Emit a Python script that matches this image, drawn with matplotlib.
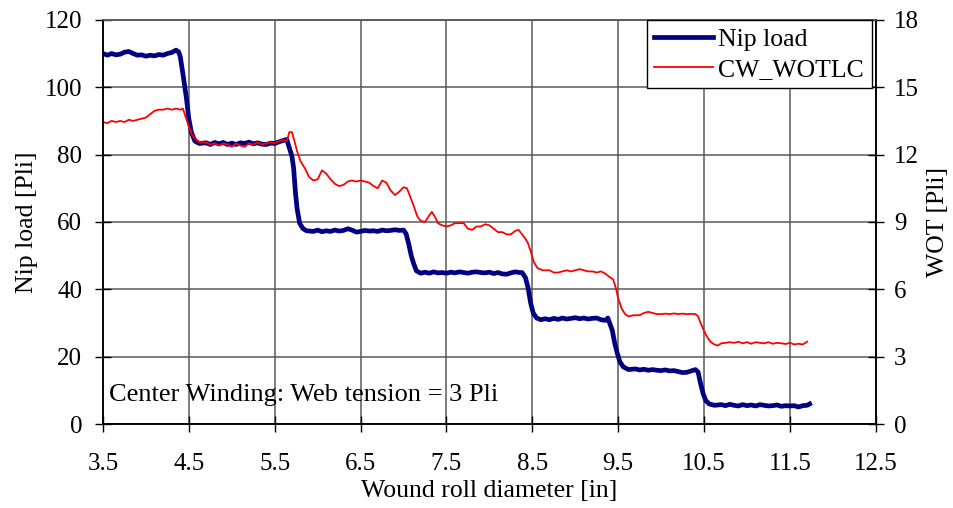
import matplotlib
matplotlib.use("Agg")
import matplotlib.pyplot as plt

# Nip load measured against wound roll diameter
diameter_nip = [3.50, 3.55, 3.60, 3.65, 3.70, 3.75, 3.80, 3.85, 3.90, 3.95, 4.00, 4.05, 4.10, 4.15,
                4.20, 4.25, 4.30, 4.35, 4.38, 4.40, 4.43, 4.47, 4.50, 4.53, 4.57, 4.62, 4.70, 4.75,
                4.80, 4.85, 4.90, 4.95, 5.00, 5.05, 5.10, 5.15, 5.20, 5.25, 5.30, 5.35, 5.40, 5.45,
                5.50, 5.55, 5.60, 5.64, 5.67, 5.70, 5.72, 5.74, 5.76, 5.79, 5.83, 5.87, 5.95, 6.00,
                6.05, 6.10, 6.15, 6.20, 6.25, 6.30, 6.35, 6.40, 6.45, 6.50, 6.55, 6.60, 6.65, 6.70,
                6.75, 6.80, 6.85, 6.90, 6.95, 7.00, 7.03, 7.06, 7.09, 7.12, 7.15, 7.20, 7.25, 7.30,
                7.35, 7.40, 7.45, 7.50, 7.55, 7.60, 7.65, 7.70, 7.75, 7.80, 7.85, 7.90, 7.95, 8.00,
                8.05, 8.10, 8.15, 8.20, 8.25, 8.30, 8.35, 8.38, 8.42, 8.45, 8.48, 8.51, 8.55, 8.60,
                8.65, 8.70, 8.75, 8.80, 8.85, 8.90, 8.95, 9.00, 9.05, 9.10, 9.15, 9.20, 9.25, 9.30,
                9.35, 9.38, 9.40, 9.43, 9.46, 9.49, 9.52, 9.56, 9.62, 9.70, 9.75, 9.80, 9.85, 9.90,
                9.95, 10.00, 10.05, 10.10, 10.15, 10.20, 10.25, 10.30, 10.35, 10.40, 10.43, 10.46,
                10.49, 10.52, 10.56, 10.62, 10.70, 10.75, 10.80, 10.85, 10.90, 10.95, 11.00, 11.05,
                11.10, 11.15, 11.20, 11.25, 11.30, 11.35, 11.40, 11.45, 11.50, 11.55, 11.60, 11.65,
                11.70, 11.73]
nip_load = [110.0, 109.5, 110.0, 109.6, 109.8, 110.4, 110.6, 110.0, 109.5, 109.6, 109.2, 109.5, 109.3, 109.7,
            109.5, 110.0, 110.3, 111.0, 110.5, 109.0, 104.0, 97.0, 90.5, 86.5, 84.0, 83.3, 83.5, 83.0,
            83.6, 83.2, 83.6, 83.0, 83.4, 83.0, 83.5, 83.3, 83.7, 83.2, 83.5, 83.1, 83.0, 83.4,
            83.3, 83.8, 84.2, 84.5, 82.0, 79.5, 76.0, 69.0, 64.0, 59.6, 58.0, 57.4, 57.2, 57.6,
            57.1, 57.4, 57.2, 57.6, 57.3, 57.5, 58.0, 57.6, 57.0, 57.2, 57.5, 57.3, 57.4, 57.2,
            57.6, 57.4, 57.5, 57.7, 57.5, 57.6, 56.5, 53.5, 50.0, 47.5, 45.5, 44.8, 45.1, 44.8,
            45.2, 44.9, 45.0, 44.8, 45.1, 44.9, 45.2, 45.0, 44.8, 45.1, 45.2, 45.0, 44.9, 45.1,
            44.7, 45.0, 44.6, 44.5, 44.9, 45.2, 45.0, 45.0, 43.5, 40.5, 36.0, 33.0, 31.5, 31.0,
            31.3, 31.0, 31.4, 31.1, 31.5, 31.2, 31.4, 31.6, 31.3, 31.5, 31.2, 31.4, 31.5, 31.0,
            30.8, 31.5, 30.0, 28.0, 24.0, 21.0, 18.5, 17.0, 16.2, 16.4, 16.1, 16.3, 16.0, 16.2,
            16.0, 15.9, 16.1, 15.8, 15.9, 15.6, 15.3, 15.4, 15.8, 16.2, 15.5, 12.0,
            9.0, 7.0, 6.0, 5.6, 5.8, 5.5, 5.9, 5.6, 5.4, 5.8, 5.5, 5.7,
            5.4, 5.8, 5.6, 5.4, 5.5, 5.7, 5.3, 5.5, 5.4, 5.5, 5.1, 5.5,
            5.6, 6.0]

# Wound-on tension (CW_WOTLC) against wound roll diameter
diameter_wot = [3.50, 3.55, 3.60, 3.65, 3.70, 3.75, 3.80, 3.85, 3.90, 3.95, 4.00, 4.05, 4.10, 4.15,
                4.20, 4.25, 4.30, 4.35, 4.40, 4.43, 4.46, 4.50, 4.54, 4.58, 4.62, 4.70, 4.75, 4.80,
                4.85, 4.90, 4.95, 5.00, 5.05, 5.10, 5.15, 5.20, 5.25, 5.30, 5.35, 5.40, 5.45, 5.50,
                5.55, 5.60, 5.64, 5.67, 5.70, 5.73, 5.76, 5.80, 5.85, 5.90, 5.95, 6.00, 6.05, 6.10,
                6.15, 6.20, 6.25, 6.30, 6.35, 6.40, 6.45, 6.50, 6.55, 6.60, 6.65, 6.70, 6.75, 6.80,
                6.85, 6.90, 6.95, 7.00, 7.04, 7.08, 7.12, 7.16, 7.20, 7.25, 7.30, 7.33, 7.37, 7.40,
                7.45, 7.50, 7.55, 7.60, 7.65, 7.70, 7.75, 7.80, 7.85, 7.90, 7.95, 8.00, 8.05, 8.10,
                8.15, 8.20, 8.25, 8.30, 8.34, 8.38, 8.42, 8.45, 8.48, 8.52, 8.56, 8.62, 8.70, 8.75,
                8.80, 8.85, 8.90, 8.95, 9.00, 9.05, 9.10, 9.15, 9.20, 9.25, 9.30, 9.35, 9.40, 9.44,
                9.47, 9.50, 9.54, 9.58, 9.62, 9.68, 9.75, 9.80, 9.85, 9.90, 9.95, 10.00, 10.05, 10.10,
                10.15, 10.20, 10.25, 10.30, 10.35, 10.40, 10.43, 10.46, 10.50, 10.54, 10.58, 10.62,
                10.66, 10.70, 10.75, 10.80, 10.85, 10.90, 10.95, 11.00, 11.05, 11.10, 11.15, 11.20,
                11.25, 11.30, 11.35, 11.40, 11.45, 11.50, 11.55, 11.60, 11.65, 11.70]
wot = [13.45, 13.40, 13.50, 13.45, 13.50, 13.45, 13.55, 13.50, 13.55, 13.60, 13.65, 13.80, 13.95, 14.00,
       14.00, 14.05, 14.00, 14.05, 14.00, 14.05, 13.70, 13.25, 12.85, 12.70, 12.55, 12.55, 12.45, 12.50,
       12.40, 12.50, 12.45, 12.35, 12.50, 12.40, 12.35, 12.50, 12.45, 12.55, 12.45, 12.50, 12.55, 12.50,
       12.60, 12.65, 12.60, 13.00, 13.00, 12.60, 12.15, 11.70, 11.40, 11.00, 10.85, 10.90, 11.30, 11.15,
       10.90, 10.70, 10.60, 10.65, 10.80, 10.85, 10.80, 10.85, 10.80, 10.75, 10.60, 10.50, 10.85, 10.75,
       10.40, 10.20, 10.35, 10.55, 10.50, 10.10, 9.70, 9.25, 9.05, 9.00, 9.30, 9.45, 9.20, 8.95,
       8.85, 8.80, 8.85, 8.95, 8.95, 8.95, 8.70, 8.65, 8.80, 8.80, 8.90, 8.85, 8.70, 8.55,
       8.55, 8.45, 8.45, 8.60, 8.65, 8.45, 8.25, 8.05, 7.70, 7.20, 6.95, 6.85, 6.85, 6.75,
       6.75, 6.80, 6.85, 6.80, 6.85, 6.90, 6.85, 6.80, 6.80, 6.75, 6.80, 6.70, 6.55, 6.45,
       6.10, 5.60, 5.15, 4.90, 4.80, 4.85, 4.85, 4.95, 5.00, 4.95, 4.90, 4.90, 4.92, 4.90,
       4.93, 4.90, 4.92, 4.90, 4.91, 4.90, 4.80, 4.50, 4.15, 3.85, 3.65, 3.55,
       3.50, 3.60, 3.62, 3.65, 3.62, 3.67, 3.60, 3.65, 3.58, 3.65, 3.62, 3.60,
       3.65, 3.58, 3.62, 3.60, 3.57, 3.62, 3.55, 3.58, 3.55, 3.67]

x_ticks = [3.5, 4.5, 5.5, 6.5, 7.5, 8.5, 9.5, 10.5, 11.5, 12.5]
x_tick_labels = ["3.5", "4.5", "5.5", "6.5", "7.5", "8.5", "9.5", "10.5", "11.5", "12.5"]
nip_ticks = [0, 20, 40, 60, 80, 100, 120]
wot_ticks = [0, 3, 6, 9, 12, 15, 18]

plt.rcParams["font.family"] = ["Liberation Serif", "DejaVu Serif"]
TICK_FS = 18
LABEL_FS = 18.5

fig = plt.figure(figsize=(9.54, 5.08), dpi=100)
ax = fig.add_axes([0.108, 0.165, 0.810, 0.796])
ax2 = ax.twinx()

grid_color = "#5a5a5a"
ax.set_xlim(3.5, 12.5)
ax.set_ylim(0, 120)
ax2.set_ylim(0, 18)
ax.set_xticks(x_ticks)
ax.set_xticklabels(x_tick_labels)
ax.set_yticks(nip_ticks)
ax2.set_yticks(wot_ticks)
ax.grid(True, color=grid_color, linewidth=1.1)
ax.set_axisbelow(True)

ax.tick_params(axis="x", direction="inout", length=12, width=1.0, labelsize=TICK_FS, pad=15)
ax.tick_params(axis="y", direction="inout", length=12, width=1.0, labelsize=TICK_FS, pad=9)
ax2.tick_params(axis="y", direction="inout", length=12, width=1.0, labelsize=TICK_FS, pad=7)

for a in (ax, ax2):
    for side in ("left", "right", "bottom"):
        a.spines[side].set_color("black")
        a.spines[side].set_linewidth(1.1)
    a.spines["top"].set_color(grid_color)
    a.spines["top"].set_linewidth(1.1)

l1, = ax.plot(diameter_nip, nip_load, color="#000080", linewidth=3.4, label="Nip load",
              solid_joinstyle="round")
l2, = ax2.plot(diameter_wot, wot, color="#ff0000", linewidth=1.3, label="CW_WOTLC")

ax.set_xlabel("Wound roll diameter [in]", fontsize=LABEL_FS, labelpad=3)
ax.set_ylabel("Nip load [Pli]", fontsize=LABEL_FS, labelpad=5)
ax2.set_ylabel("WOT [Pli]", fontsize=LABEL_FS, labelpad=6)

ax.text(0.008, 0.045, "Center Winding: Web tension = 3 Pli", transform=ax.transAxes,
        fontsize=19, ha="left", va="bottom")

leg = ax2.legend(handles=[l1, l2], loc="upper right", bbox_to_anchor=(0.995, 1.0),
                 fontsize=LABEL_FS, frameon=True, fancybox=False, framealpha=1,
                 edgecolor="black", handlelength=2.3, handletextpad=0.2,
                 labelspacing=0.28, borderpad=0.3, borderaxespad=0.0)
leg.get_frame().set_linewidth(1.0)

fig.savefig("out.png", dpi=100)
